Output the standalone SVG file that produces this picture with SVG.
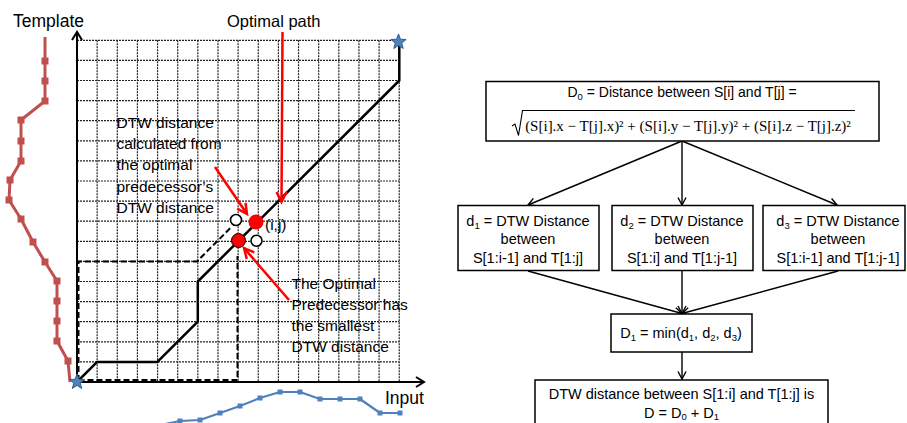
<svg xmlns="http://www.w3.org/2000/svg" width="907" height="423" viewBox="0 0 907 423">
<style>
text{font-family:"Liberation Sans",Arial,sans-serif;fill:#000}
.lbl{font-size:15.5px}
.fc{font-size:14.5px;text-anchor:middle}
.box{fill:#fff;stroke:#000;stroke-width:1.5}
.grid{stroke:#222;stroke-width:1.2;stroke-dasharray:2 1;fill:none}
.path{stroke:#000;stroke-width:2.5;fill:none;stroke-linejoin:round}
.dash{stroke:#000;stroke-width:2;stroke-dasharray:6 3;fill:none}
.red{stroke:#FF0000;stroke-width:2.5;fill:none;marker-end:url(#rarr)}
.conn{stroke:#000;stroke-width:1.4;fill:none;marker-end:url(#farr)}
.axis{stroke:#000;stroke-width:2;fill:none;marker-end:url(#aarr)}
.star{fill:#4F81BD;stroke:#385D8A;stroke-width:1}
</style>
<defs>
<marker id="rarr" markerUnits="userSpaceOnUse" markerWidth="16" markerHeight="16" refX="11" refY="6" orient="auto" overflow="visible"><path d="M1,1 L11,6 L1,11" fill="none" stroke="#FF0000" stroke-width="2.5"/></marker>
<marker id="farr" markerUnits="userSpaceOnUse" markerWidth="12" markerHeight="12" refX="8" refY="4.5" orient="auto" overflow="visible"><path d="M0.5,0.5 L8,4.5 L0.5,8.5" fill="none" stroke="#000" stroke-width="1.4"/></marker>
<marker id="aarr" markerUnits="userSpaceOnUse" markerWidth="14" markerHeight="14" refX="9" refY="5.5" orient="auto" overflow="visible"><path d="M1,0.5 L9,5.5 L1,10.5" fill="none" stroke="#000" stroke-width="2"/></marker>
<marker id="rsq" markerUnits="userSpaceOnUse" markerWidth="8" markerHeight="8" refX="3.5" refY="3.5" overflow="visible"><rect width="7" height="7" fill="#C0504D"/></marker>
<marker id="bsq" markerUnits="userSpaceOnUse" markerWidth="6" markerHeight="6" refX="2.5" refY="2.5" overflow="visible"><rect width="5" height="5" fill="#4F81BD"/></marker>
<polygon id="starshape" points="0,-8 2,-2.75 7.61,-2.47 3.23,1.05 4.7,6.47 0,3.4 -4.7,6.47 -3.23,1.05 -7.61,-2.47 -2,-2.75"/>
</defs>

<g id="chart">
<path class="grid" d="M97.14,40.3V382M117.28,40.3V382M137.42,40.3V382M157.56,40.3V382M177.7,40.3V382M197.84,40.3V382M217.98,40.3V382M238.12,40.3V382M258.26,40.3V382M278.4,40.3V382M298.54,40.3V382M318.68,40.3V382M338.82,40.3V382M358.96,40.3V382M379.1,40.3V382M399.24,40.3V382M77,361.9H399.24M77,341.8H399.24M77,321.7H399.24M77,301.6H399.24M77,281.5H399.24M77,261.4H399.24M77,241.3H399.24M77,221.2H399.24M77,201.1H399.24M77,181H399.24M77,160.9H399.24M77,140.8H399.24M77,120.7H399.24M77,100.6H399.24M77,80.5H399.24M77,60.4H399.24M77,40.3H399.24"/>
<path class="axis" d="M77,383V32"/>
<path class="axis" d="M76,382H424"/>
<path class="dash" d="M78.5,381V261.4H197L232,226.4"/>
<path class="dash" d="M78.5,380H237.5V256"/>
<path class="path" d="M77,382L97.1,361.9H157.4L197.8,321.7V281.5L399.3,80.5V40.3"/>
<path d="M45,37L45,61L45,81L45,101L21,120L21,141L21,161L10,180L9,200L21,219L33,242L45,262L57,281L57,301L57,321L57,341L68,361L70,382" fill="none" stroke="#C0504D" stroke-width="3" stroke-linejoin="round" marker-mid="url(#rsq)"/>
<path d="M165,424L180,421L200,420L220,413L240,406L260,398L280,392L300,392L320,399L340,399L360,399L380,413L400,413" fill="none" stroke="#4F81BD" stroke-width="2.2" stroke-linejoin="round" marker-mid="url(#bsq)" marker-end="url(#bsq)"/>
<use href="#starshape" class="star" transform="translate(77,382)"/>
<use href="#starshape" class="star" transform="translate(398.5,42)"/>
<circle cx="236" cy="220" r="5.5" fill="#fff" stroke="#000" stroke-width="1.6"/>
<circle cx="256.5" cy="240.7" r="5.5" fill="#fff" stroke="#000" stroke-width="1.6"/>
<circle cx="238.5" cy="240.5" r="7" fill="#FF0000" stroke="#000" stroke-width="1"/>
<circle cx="256" cy="222" r="7.5" fill="#FF0000"/>
<path class="red" d="M282.5,32L281.5,202"/>
<path class="red" d="M215,167L247,214"/>
<path class="red" d="M289,300L244,248"/>
<text x="13" y="27" style="font-size:17.5px">Template</text>
<text x="227" y="27" style="font-size:16.5px">Optimal path</text>
<text x="385" y="404" style="font-size:17.5px">Input</text>
<text x="265" y="229.5" class="lbl">(i,j)</text>
<text class="lbl"><tspan x="116.5" y="128">DTW distance</tspan><tspan x="116.5" y="149">calculated from</tspan><tspan x="116.5" y="170">the optimal</tspan><tspan x="116.5" y="191.5">predecessor’s</tspan><tspan x="116.5" y="212.5">DTW distance</tspan></text>
<text class="lbl"><tspan x="291.5" y="288.5">The Optimal</tspan><tspan x="291.5" y="310">Predecessor has</tspan><tspan x="291.5" y="331">the smallest</tspan><tspan x="291.5" y="352">DTW distance</tspan></text>
</g>

<g id="connectors">
<path class="conn" d="M682,141L528,205"/>
<path class="conn" d="M682,141V205"/>
<path class="conn" d="M682,141L837,205"/>
<path class="conn" d="M528,271L682,313.5"/>
<path class="conn" d="M682,271V313.5"/>
<path class="conn" d="M838,271L682,313.5"/>
<path class="conn" d="M682,352V379"/>
</g>

<g id="n-d0">
<rect class="box" x="486" y="81.5" width="393" height="59.5"/>
<text class="fc" x="682" y="97" style="font-size:14px">D<tspan dy="3" style="font-size:9.5px">0</tspan><tspan dy="-3"> = Distance between S[i] and T[j] =</tspan></text>
<path d="M512,126L515,124L518.5,135.5L522.5,110.5H855" fill="none" stroke="#000" stroke-width="1.1"/>
<text x="688" y="131" text-anchor="middle" style="font-family:'Liberation Serif','Times New Roman',serif;font-size:15px">(S[i].x − T[j].x)² + (S[i].y − T[j].y)² + (S[i].z − T[j].z)²</text>
</g>

<g id="n-d1">
<rect class="box" x="458" y="205.5" width="141" height="65"/>
<text class="fc" x="528" y="226">d<tspan dy="3" style="font-size:9.5px">1</tspan><tspan dy="-3"> = DTW Distance</tspan></text>
<text class="fc" x="528" y="244">between</text>
<text class="fc" x="528" y="263">S[1:i-1] and T[1:j]</text>
</g>

<g id="n-d2">
<rect class="box" x="612" y="205.5" width="141" height="65"/>
<text class="fc" x="682" y="226">d<tspan dy="3" style="font-size:9.5px">2</tspan><tspan dy="-3"> = DTW Distance</tspan></text>
<text class="fc" x="682" y="244">between</text>
<text class="fc" x="682" y="263">S[1:i] and T[1:j-1]</text>
</g>

<g id="n-d3">
<rect class="box" x="763" y="205.5" width="142" height="65"/>
<text class="fc" x="838" y="226">d<tspan dy="3" style="font-size:9.5px">3</tspan><tspan dy="-3"> = DTW Distance</tspan></text>
<text class="fc" x="838" y="244">between</text>
<text class="fc" x="838" y="263">S[1:i-1] and T[1:j-1]</text>
</g>

<g id="n-min">
<rect class="box" x="611" y="314" width="141" height="38"/>
<text class="fc" x="681" y="338">D<tspan dy="3" style="font-size:9.5px">1</tspan><tspan dy="-3"> = min(d</tspan><tspan dy="3" style="font-size:9.5px">1</tspan><tspan dy="-3">, d</tspan><tspan dy="3" style="font-size:9.5px">2</tspan><tspan dy="-3">, d</tspan><tspan dy="3" style="font-size:9.5px">3</tspan><tspan dy="-3">)</tspan></text>
</g>

<g id="n-result">
<rect class="box" x="535" y="380" width="293" height="60"/>
<text class="fc" x="681.5" y="399">DTW distance between S[1:i] and T[1:j] is</text>
<text class="fc" x="681.5" y="418">D = D<tspan dy="2" style="font-size:9.5px">0</tspan><tspan dy="-2"> + D</tspan><tspan dy="2" style="font-size:9.5px">1</tspan></text>
</g>
</svg>
